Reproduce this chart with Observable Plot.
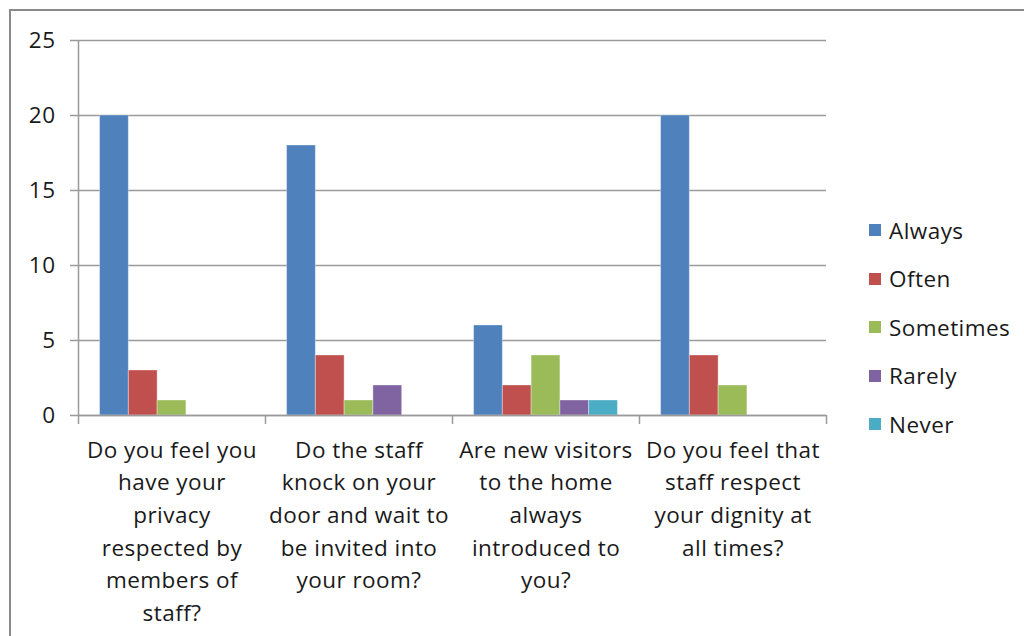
<!DOCTYPE html>
<html>
<head>
<meta charset="utf-8">
<script src="https://cdn.jsdelivr.net/npm/d3@7"></script>
<script src="https://cdn.jsdelivr.net/npm/@observablehq/plot@0.6"></script>
<style>
  html, body { margin: 0; padding: 0; background: #fff; overflow: hidden; }
  #wrap { position: relative; width: 1024px; height: 636px; overflow: hidden; font-family: "Open Sans", Lato, sans-serif; }
  #border { position: absolute; left: 9px; top: 9px; width: 1100px; height: 700px; border-left: 2px solid #8a8a8a; border-top: 2px solid #8a8a8a; box-sizing: border-box; }
  #chart { position: absolute; left: 0; top: 0; }
  #chart svg text { letter-spacing: 0.45px; }
  #legend { position: absolute; left: 869px; top: 206px; font-size: 22.5px; letter-spacing: 0.45px; color: #1a1a1a; }
  .item { display: flex; align-items: center; height: 48.5px; }
  .sw { width: 12px; height: 12px; margin-right: 8px; }
</style>
</head>
<body>
<div id="wrap">
  <div id="border"></div>
  <div id="chart"></div>
  <div id="legend"></div>
</div>
<script>
// ---- data ----
const questions = [
  "Do you feel you\nhave your\nprivacy\nrespected by\nmembers of\nstaff?",
  "Do the staff\nknock on your\ndoor and wait to\nbe invited into\nyour room?",
  "Are new visitors\nto the home\nalways\nintroduced to\nyou?",
  "Do you feel that\nstaff respect\nyour dignity at\nall times?"
];
const seriesNames = ["Always", "Often", "Sometimes", "Rarely", "Never"];
const always    = [20, 18, 6, 20];
const often     = [3, 4, 2, 4];
const sometimes = [1, 1, 4, 2];
const rarely    = [0, 2, 1, 0];
const never     = [0, 0, 1, 0];
const colors = ["#4F81BD", "#C0504D", "#9BBB59", "#8064A2", "#4BACC6"];
const yTicks = [0, 5, 10, 15, 20, 25];

// ---- build table ----
const valuesBySeries = [always, often, sometimes, rarely, never];
const nS = seriesNames.length;
const gap = 1.5; // Excel gap width 150%
const slots = nS + gap;
const rows = [];
questions.forEach((q, i) => {
  seriesNames.forEach((s, j) => {
    const v = valuesBySeries[j][i];
    rows.push({
      qi: i, series: s, value: v,
      x1: i + (gap / 2 + j) / slots,
      x2: i + (gap / 2 + j + 1) / slots
    });
  });
});
const bounds = d3.range(questions.length + 1);
const qIdx = d3.range(questions.length);

const font = "'Open Sans', Lato, sans-serif";
const plot = Plot.plot({
  width: 1024,
  height: 636,
  marginLeft: 78,
  marginRight: 198,
  marginTop: 40,
  marginBottom: 221,
  style: { fontFamily: font, background: "transparent", color: "#1a1a1a" },
  x: { type: "linear", domain: [0, questions.length], axis: null },
  y: { domain: [0, 25], axis: null },
  color: { domain: seriesNames, range: colors },
  marks: [
    Plot.gridY(yTicks, { stroke: "#9a9a9a", strokeOpacity: 1, strokeWidth: 1.5 }),
    Plot.axisY(yTicks, { label: null, tickSize: 8, tickPadding: 15, fontSize: 22.5, stroke: "#9a9a9a", strokeWidth: 1.5, fill: "#1a1a1a", tickFormat: d => String(d) }),
    Plot.rectY(rows.filter(d => d.value > 0), {
      x1: "x1", x2: "x2", y: "value", fill: "series",
      stroke: "#ffffff", strokeOpacity: 0.35, strokeWidth: 1
    }),
    Plot.ruleX(bounds, { x: d => d, y1: -0.6, y2: d => d === 0 ? 25 : 0, stroke: "#9a9a9a", strokeWidth: 1.5 }),
    Plot.ruleY([0], { stroke: "#9a9a9a", strokeWidth: 1.5 }),
    Plot.text(qIdx, {
      x: d => d + 0.5, text: d => questions[d],
      frameAnchor: "bottom", lineAnchor: "top", dy: 19,
      fontSize: 22.5, lineHeight: 1.45, fill: "#1a1a1a"
    })
  ]
});
document.getElementById("chart").appendChild(plot);

// ---- legend ----
const legend = document.getElementById("legend");
seriesNames.forEach((s, j) => {
  const item = document.createElement("div");
  item.className = "item";
  const sw = document.createElement("div");
  sw.className = "sw";
  sw.style.background = colors[j];
  const t = document.createElement("span");
  t.textContent = s;
  item.appendChild(sw);
  item.appendChild(t);
  legend.appendChild(item);
});
</script>
</body>
</html>
